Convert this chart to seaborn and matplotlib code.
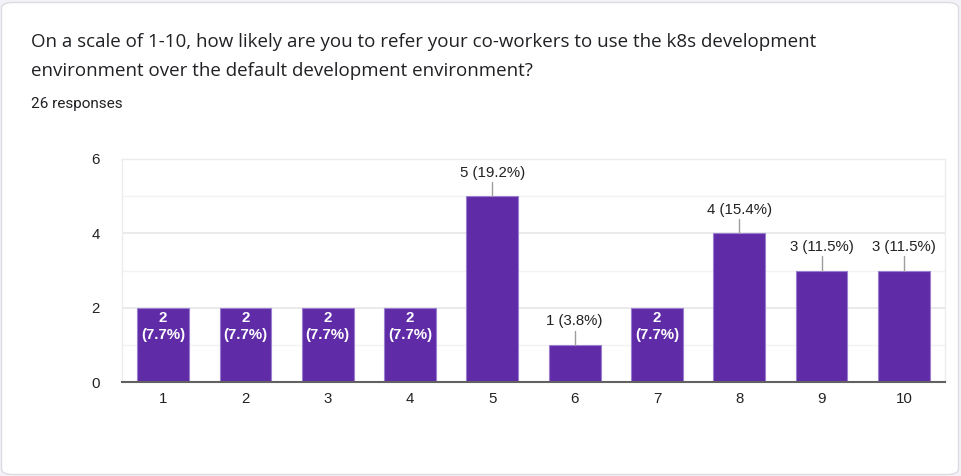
import matplotlib
matplotlib.use("Agg")
import matplotlib.pyplot as plt
import seaborn as sns
from matplotlib.patches import FancyBboxPatch
from matplotlib.ticker import MultipleLocator

# survey results
ratings = ['1', '2', '3', '4', '5', '6', '7', '8', '9', '10']
counts = [2, 2, 2, 2, 5, 1, 2, 4, 3, 3]
total = 26
question_lines = ["On a scale of 1-10, how likely are you to refer your co-workers to use the k8s development",
                  "environment over the default development environment?"]
subtitle = f"{total} responses"

sns.set_theme(style="white")
plt.rcParams['font.family'] = ['Liberation Sans', 'DejaVu Sans']

fig = plt.figure(figsize=(9.61, 4.76), dpi=100)
fig.patch.set_facecolor('#f4f2f8')

# card background
card = FancyBboxPatch((1.5 / 961, 1.5 / 476), 957 / 961, 472 / 476,
                      boxstyle="round,pad=0,rounding_size=0.012",
                      transform=fig.transFigure, facecolor='white',
                      edgecolor='#dadce0', linewidth=1, zorder=-10)
fig.patches.append(card)

for k, line in enumerate(question_lines):
    fig.text(31 / 961, 1 - (42 + 29 * k) / 476, line, fontsize=13.5,
             family=['Open Sans', 'DejaVu Sans'], color='#202124', va='center', ha='left')
fig.text(31 / 961, 1 - 104 / 476, subtitle, fontsize=11, family=['Roboto', 'DejaVu Sans'],
         color='#202124', va='center', ha='left')

ax = fig.add_axes([122 / 961, 94 / 476, 823 / 961, 223 / 476], zorder=5)
ax.set_facecolor('none')

sns.barplot(x=ratings, y=counts, color='#5f2ba6', saturation=1, width=0.63,
            edgecolor='#9a7fd1', linewidth=0.8, ax=ax, zorder=3)

ax.set_ylim(0, 6)
ax.set_xlim(-0.5, len(ratings) - 0.5)
ax.yaxis.set_major_locator(MultipleLocator(2))
ax.yaxis.set_minor_locator(MultipleLocator(1))
ax.grid(which='major', axis='y', color='#e6e6e6', linewidth=1.2, zorder=0)
ax.grid(which='minor', axis='y', color='#f2f2f2', linewidth=1, zorder=0)
for side in ['top', 'right', 'left']:
    ax.spines[side].set_visible(True)
    ax.spines[side].set_color('#ececec')
    ax.spines[side].set_linewidth(1)
ax.spines['bottom'].set_color('#616161')
ax.spines['bottom'].set_linewidth(1.5)
ax.spines['bottom'].set_zorder(5)

ax.tick_params(axis='both', which='both', length=0, labelsize=10.8, colors='#222222')
ax.tick_params(axis='y', pad=16)
ax.tick_params(axis='x', pad=7)
ax.set_xlabel('')
ax.set_ylabel('')

for i, c in enumerate(counts):
    pct = c / total * 100
    if c == 2:
        ax.text(i, c - 0.27, f"{c}", ha='center', va='center', color='white',
                fontsize=10.8, fontweight='bold', zorder=6)
        ax.text(i, c - 0.73, f"({pct:.1f}%)", ha='center', va='center', color='white',
                fontsize=10.8, fontweight='bold', zorder=6)
    else:
        ax.plot([i, i], [c, c + 0.38], color='#9e9e9e', linewidth=1, zorder=4, clip_on=False)
        ax.text(i, c + 0.63, f"{c} ({pct:.1f}%)", ha='center', va='center',
                color='#222222', fontsize=10.8, zorder=6, clip_on=False)

fig.savefig('out.png', dpi=100)
